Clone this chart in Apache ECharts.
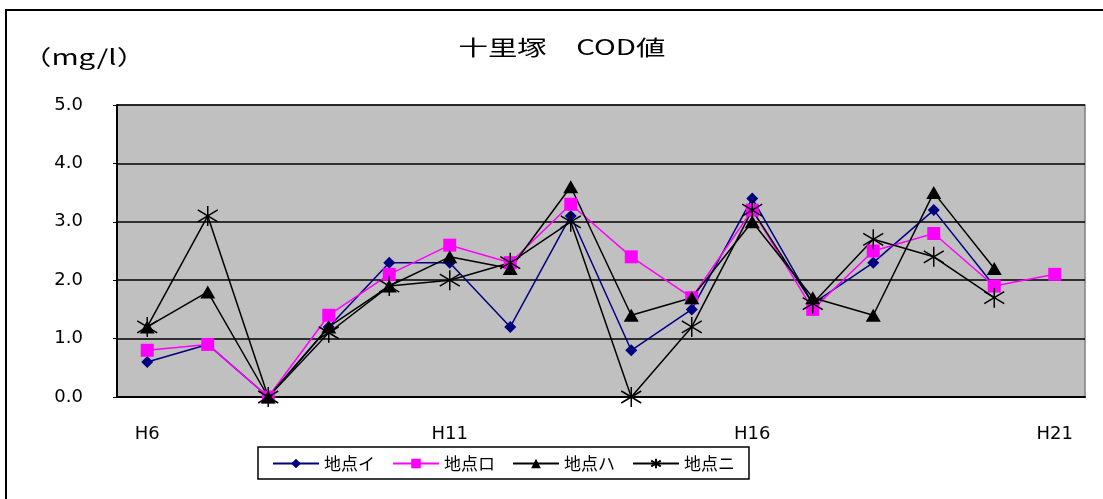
<!DOCTYPE html>
<html>
<head>
<meta charset="utf-8">
<script src="https://cdn.jsdelivr.net/npm/echarts@6/dist/echarts.min.js"></script>
<style>
  html, body { margin: 0; padding: 0; background: #fff; }
  #cod_chart { width: 1103px; height: 499px; }
</style>
</head>
<body>
<div id="cod_chart"></div>
<script>
// 年度 (H6〜H21)
const years = ['H6', 'H7', 'H8', 'H9', 'H10', 'H11', 'H12', 'H13', 'H14', 'H15', 'H16', 'H17', 'H18', 'H19', 'H20', 'H21']
const seriesNames = ['地点イ', '地点ロ', '地点ハ', '地点ニ']
const pointI = [0.6, 0.9, 0.0, 1.2, 2.3, 2.3, 1.2, 3.1, 0.8, 1.5, 3.4, 1.6, 2.3, 3.2, 1.9, null]
const pointRo = [0.8, 0.9, 0.0, 1.4, 2.1, 2.6, 2.3, 3.3, 2.4, 1.7, 3.2, 1.5, 2.5, 2.8, 1.9, 2.1]
const pointHa = [1.2, 1.8, 0.0, 1.2, 1.9, 2.4, 2.2, 3.6, 1.4, 1.7, 3.0, 1.7, 1.4, 3.5, 2.2, null]
const pointNi = [1.2, 3.1, 0.0, 1.1, 1.9, 2.0, 2.3, 3.0, 0.0, 1.2, 3.2, 1.6, 2.7, 2.4, 1.7, null]
const yTicks = [0, 1, 2, 3, 4, 5]

const myechart = echarts.init(document.getElementById('cod_chart'))

// アスタリスク型マーカー
const starPath = 'path://M10,0L10,20M1,4L19,16M1,16L19,4'

let option = {
  animation: false,
  textStyle: { fontFamily: 'DejaVu Sans' },
  graphic: [
    {
      type: 'rect',
      shape: { x: 6, y: 10, width: 1110, height: 500 },
      style: { fill: 'none', stroke: '#000', lineWidth: 2 }
    },
    {
      // タイトル (横長の書体に合わせて横に拡大)
      type: 'text',
      x: 562,
      y: 47,
      scaleX: 1.4,
      style: {
        text: '十里塚　COD値',
        font: '21px "Noto Sans CJK JP"',
        fill: '#000',
        textAlign: 'center',
        textVerticalAlign: 'middle'
      }
    },
    {
      type: 'text',
      x: 22,
      y: 57,
      scaleX: 1.4,
      style: {
        text: '（mg/l）',
        font: '21px "Noto Sans CJK JP"',
        fill: '#000',
        textAlign: 'left',
        textVerticalAlign: 'middle'
      }
    }
  ],
  grid: {
    left: 117,
    right: 18,
    top: 105,
    bottom: 102,
    show: true,
    backgroundColor: '#c0c0c0',
    borderColor: '#808080',
    borderWidth: 1.5
  },
  legend: {
    left: 258,
    top: 447,
    width: 490,
    padding: [8, 14, 7, 14],
    borderColor: '#000',
    borderWidth: 1.5,
    itemWidth: 46,
    itemHeight: 12,
    itemGap: 17,
    textStyle: { fontFamily: 'Noto Sans CJK JP', fontSize: 17, color: '#000' },
    data: seriesNames
  },
  xAxis: {
    type: 'category',
    data: years,
    boundaryGap: true,
    axisLine: { lineStyle: { color: '#000', width: 2 } },
    axisTick: { inside: true, length: 5, interval: 0, lineStyle: { color: '#000', width: 1.5 } },
    axisLabel: {
      interval: 4,
      margin: 28,
      fontFamily: 'DejaVu Sans',
      fontSize: 18,
      color: '#000'
    },
    splitLine: { show: false }
  },
  yAxis: {
    type: 'value',
    min: yTicks[0],
    max: yTicks[yTicks.length - 1],
    interval: 1,
    axisLine: { show: true, lineStyle: { color: '#000', width: 2 } },
    axisTick: { show: true, length: 4, lineStyle: { color: '#000' } },
    axisLabel: {
      margin: 34,
      fontFamily: 'DejaVu Sans',
      fontSize: 18,
      color: '#000',
      formatter: v => v.toFixed(1)
    },
    splitLine: { lineStyle: { color: '#000', width: 1.5 } }
  },
  series: [
    {
      name: seriesNames[0],
      type: 'line',
      data: pointI,
      symbol: 'diamond',
      symbolSize: [12, 12],
      color: '#000080',
      lineStyle: { color: '#000080', width: 1.5 },
      itemStyle: { color: '#000080' }
    },
    {
      name: seriesNames[1],
      type: 'line',
      data: pointRo,
      symbol: 'rect',
      symbolSize: 13,
      color: '#ff00ff',
      lineStyle: { color: '#ff00ff', width: 1.5 },
      itemStyle: { color: '#ff00ff' }
    },
    {
      name: seriesNames[2],
      type: 'line',
      data: pointHa,
      symbol: 'triangle',
      symbolSize: [15, 13],
      color: '#000',
      lineStyle: { color: '#000', width: 1.5 },
      itemStyle: { color: '#000' }
    },
    {
      name: seriesNames[3],
      type: 'line',
      data: pointNi,
      symbol: starPath,
      symbolSize: 20,
      color: '#000',
      lineStyle: { color: '#000', width: 1.5 },
      itemStyle: { color: 'none', borderColor: '#000', borderWidth: 1.5 }
    }
  ]
}
myechart.setOption(option)
window.onresize = () => { myechart.resize() }
</script>
</body>
</html>
